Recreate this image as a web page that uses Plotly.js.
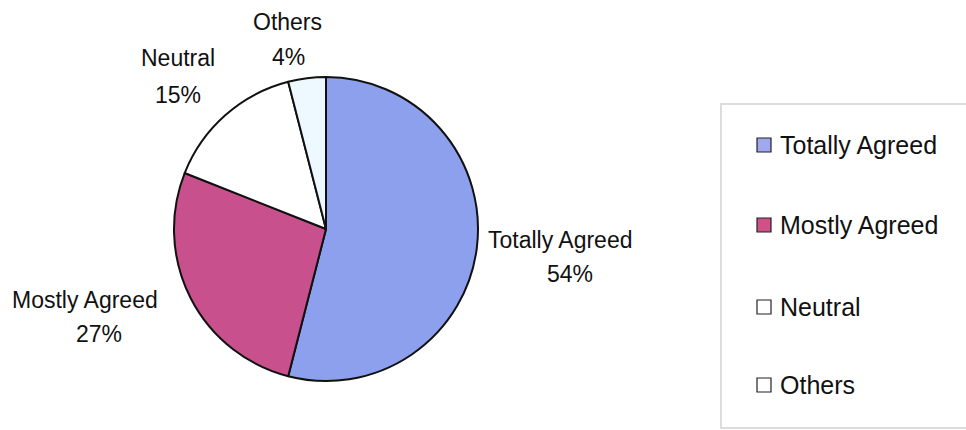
<!DOCTYPE html>
<html>
<head>
<meta charset="utf-8">
<script src="https://cdn.plot.ly/plotly-3.0.1.min.js"></script>
<style>
html,body{margin:0;padding:0;background:#fff;}
#chart{width:966px;height:430px;}
</style>
</head>
<body>
<div id="chart"></div>
<script>
const categories = ["Totally Agreed", "Mostly Agreed", "Neutral", "Others"];
const values = [54, 27, 15, 4];
const colors = ["#8CA0EE", "#C8508C", "#FFFFFF", "#EEF9FF"];
const legendColors = ["#A0A8F0", "#D05088", "#FFFFFF", "#FFFFFF"];

const W = 966, H = 430;
const px = x => x / W;
const py = y => 1 - y / H;

// label positions (pixels: name line center, percent line center)
const labelPos = [
  {x: 560, y: 240, px: 570, py: 274},
  {x: 85,  y: 300, px: 99,  py: 334},
  {x: 178, y: 58,  px: 178, py: 95},
  {x: 287, y: 22,  px: 288, py: 57}
];
const legendRows = [145, 225, 307, 385];

const total = values.reduce((a, b) => a + b, 0);
const FONT = "Liberation Sans, Arial, sans-serif";

const annotations = [];
const shapes = [];
categories.forEach((c, i) => {
  const p = labelPos[i];
  const pct = Math.round(values[i] / total * 100) + "%";
  annotations.push({xref: "paper", yref: "paper", x: px(p.x), y: py(p.y), text: c,
    showarrow: false, xanchor: "center", yanchor: "middle", font: {family: FONT, size: 23, color: "#111"}});
  annotations.push({xref: "paper", yref: "paper", x: px(p.px), y: py(p.py), text: pct,
    showarrow: false, xanchor: "center", yanchor: "middle", font: {family: FONT, size: 23, color: "#111"}});
  // legend entry
  const yc = legendRows[i];
  shapes.push({type: "rect", xref: "paper", yref: "paper",
    x0: px(757), x1: px(771), y0: py(yc - 7), y1: py(yc + 7),
    fillcolor: legendColors[i], line: {color: "#222", width: 1.2}});
  annotations.push({xref: "paper", yref: "paper", x: px(778), y: py(yc), text: c,
    showarrow: false, xanchor: "left", yanchor: "middle", font: {family: FONT, size: 25, color: "#111"}});
});

// legend box
shapes.push({type: "rect", xref: "paper", yref: "paper",
  x0: px(721), x1: px(970), y0: py(428), y1: py(104),
  fillcolor: "rgba(0,0,0,0)", line: {color: "#dcdcdc", width: 2}, layer: "below"});

const cx = 326, cy = 229, r = 152;
const trace = {
  type: "pie",
  labels: categories,
  values: values,
  sort: false,
  direction: "clockwise",
  rotation: 0,
  textinfo: "none",
  hoverinfo: "label+percent",
  marker: {colors: colors, line: {color: "#111", width: 2}},
  domain: {x: [px(cx - r), px(cx + r)], y: [py(cy + r), py(cy - r)]},
  showlegend: false
};

Plotly.newPlot("chart", [trace], {
  width: W, height: H,
  margin: {l: 0, r: 0, t: 0, b: 0},
  paper_bgcolor: "#fff",
  showlegend: false,
  annotations: annotations,
  shapes: shapes
}, {displayModeBar: false, staticPlot: true});
</script>
</body>
</html>
